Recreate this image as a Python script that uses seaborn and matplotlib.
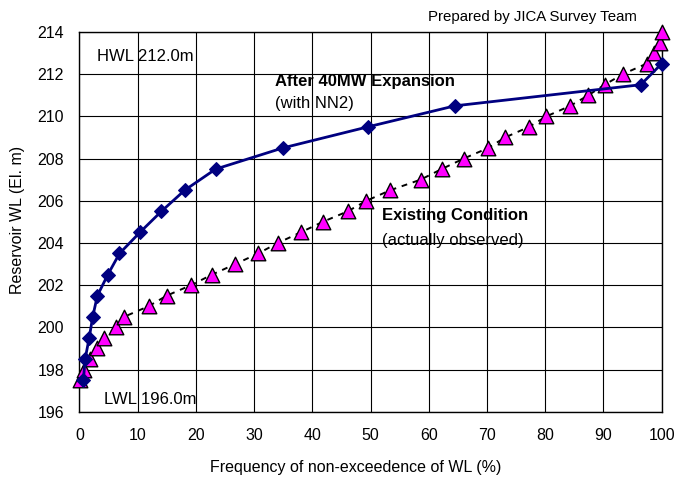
import matplotlib
matplotlib.use("Agg")
import matplotlib.pyplot as plt
import seaborn as sns
import pandas as pd

# Reservoir water level vs. frequency of non-exceedence
after_freq = [0.7, 1.0, 1.7, 2.3, 3.1, 4.9, 6.9, 10.4, 14.1, 18.1, 23.4,
              34.9, 49.5, 64.5, 96.4, 100.0]
after_wl = [197.5, 198.5, 199.5, 200.5, 201.5, 202.5, 203.5, 204.5, 205.5,
            206.5, 207.5, 208.5, 209.5, 210.5, 211.5, 212.5]

existing_freq = [0.1, 0.8, 1.9, 3.0, 4.3, 6.3, 7.7, 11.9, 15.0, 19.2, 22.8,
                 26.8, 30.7, 34.1, 38.0, 41.8, 46.1, 49.3, 53.4, 58.6, 62.2,
                 66.0, 70.2, 73.1, 77.2, 80.2, 84.3, 87.4, 90.2, 93.3, 97.4,
                 98.7, 99.7, 100.0]
existing_wl = [197.5, 198.0, 198.5, 199.0, 199.5, 200.0, 200.5, 201.0, 201.5,
               202.0, 202.5, 203.0, 203.5, 204.0, 204.5, 205.0, 205.5, 206.0,
               206.5, 207.0, 207.5, 208.0, 208.5, 209.0, 209.5, 210.0, 210.5,
               211.0, 211.5, 212.0, 212.5, 213.0, 213.5, 214.0]

x_ticks = list(range(0, 101, 10))
y_ticks = list(range(196, 215, 2))

df_after = pd.DataFrame({"freq": after_freq, "wl": after_wl})
df_exist = pd.DataFrame({"freq": existing_freq, "wl": existing_wl})

sns.set_theme(style="white")
plt.rcParams["font.family"] = ["Liberation Sans", "DejaVu Sans"]
plt.rcParams["text.color"] = "black"
plt.rcParams["axes.labelcolor"] = "black"

fig = plt.figure(figsize=(6.75, 4.79), dpi=100)
ax = fig.add_axes([0.1175, 0.1405, 0.8628, 0.7927])

# Existing condition: dashed black line under magenta triangles
sns.lineplot(data=df_exist, x="freq", y="wl", sort=False, estimator=None,
             ax=ax, color="black", linewidth=1.4, dashes=False,
             linestyle=(0, (3, 3)), zorder=3)
sns.scatterplot(data=df_exist, x="freq", y="wl", ax=ax, marker="^",
                s=110, color="#FF00FF", edgecolor="black", linewidth=1.0,
                zorder=4, clip_on=False)

# After 40MW expansion
sns.lineplot(data=df_after, x="freq", y="wl", sort=False, estimator=None,
             ax=ax, color="#000080", linewidth=2.0, marker="D",
             markersize=7, markeredgecolor="#000080", zorder=5, clip_on=False)

ax.set_xlim(0, 100)
ax.set_ylim(196, 214)
ax.set_xticks(x_ticks)
ax.set_yticks(y_ticks)
ax.grid(True, color="black", linewidth=0.8)
ax.set_axisbelow(True)
for s in ax.spines.values():
    s.set_color("black")
    s.set_linewidth(1.0)
ax.tick_params(axis="both", which="major", direction="out", length=4,
               width=0.8, color="black", labelsize=11.5, labelcolor="black",
               pad=7)
ax.tick_params(axis="x", pad=8)

ax.set_xlabel("Frequency of non-exceedence of WL (%)", fontsize=11.5)
ax.set_ylabel("Reservoir WL (El. m)", fontsize=11.5)
ax.xaxis.set_label_coords(0.474, -0.128)
ax.yaxis.set_label_coords(-0.094, 0.505)

ax.text(3.1, 212.85, "HWL 212.0m", fontsize=12, va="center", ha="left")
ax.text(4.3, 196.6, "LWL 196.0m", fontsize=12, va="center", ha="left")
ax.text(33.6, 211.65, "After 40MW Expansion", fontsize=12,
        fontweight="bold", va="center", ha="left")
ax.text(33.6, 210.6, "(with NN2)", fontsize=12, va="center", ha="left")
ax.text(52.0, 205.3, "Existing Condition", fontsize=12,
        fontweight="bold", va="center", ha="left")
ax.text(52.0, 204.1, "(actually observed)", fontsize=12,
        va="center", ha="left")
ax.text(0.958, 1.022, "Prepared by JICA Survey Team", fontsize=10.8,
        transform=ax.transAxes, ha="right", va="bottom")

if ax.get_legend() is not None:
    ax.get_legend().remove()

fig.savefig("out.png", dpi=100)
